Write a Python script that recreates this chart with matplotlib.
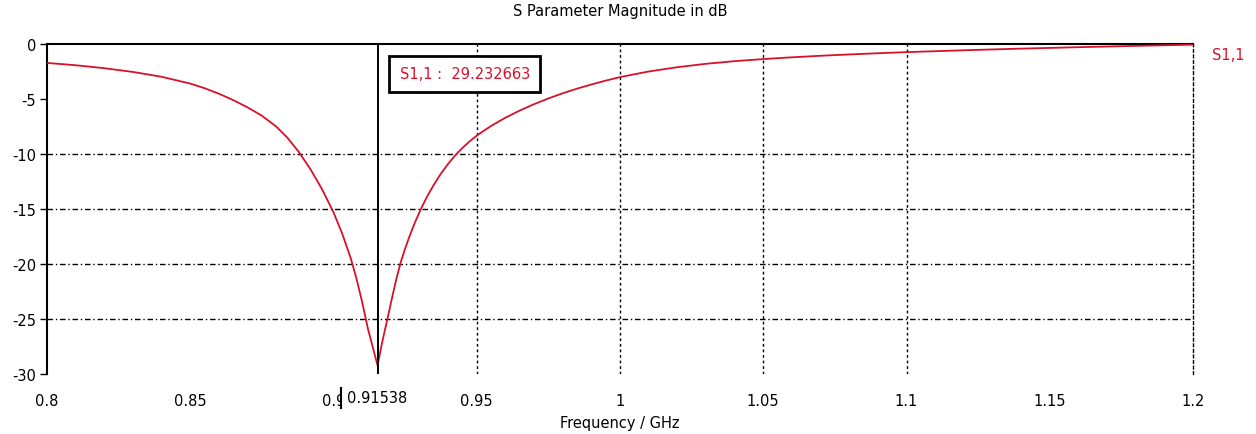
import matplotlib
matplotlib.use("Agg")
import matplotlib.pyplot as plt
from matplotlib.lines import Line2D

# ---- data ----
freq_ghz = [0.800, 0.810, 0.820, 0.830, 0.840, 0.850, 0.855, 0.860, 0.865, 0.870,
            0.875, 0.880, 0.884, 0.888, 0.892, 0.896, 0.900, 0.903, 0.906, 0.908,
            0.910, 0.912, 0.91538,
            0.9170, 0.9189, 0.9205, 0.9220, 0.9235, 0.9250, 0.9265, 0.9283, 0.9305,
            0.9325, 0.9350, 0.9375, 0.9400, 0.9425, 0.9450, 0.9475, 0.9503, 0.9550,
            0.9600, 0.9650, 0.9700, 0.9750, 0.9800, 0.9850, 0.9900, 0.9950, 1.000,
            1.010, 1.020, 1.030, 1.040, 1.050, 1.060, 1.070, 1.080, 1.090, 1.100,
            1.120, 1.140, 1.160, 1.180, 1.200]
s11_db = [-1.72, -1.93, -2.20, -2.54, -2.98, -3.60, -4.02, -4.52, -5.10, -5.76,
          -6.52, -7.50, -8.55, -9.85, -11.40, -13.20, -15.30, -17.21, -19.46, -21.30,
          -23.46, -25.86, -29.23,
          -27.10, -24.90, -23.00, -21.30, -19.80, -18.60, -17.50, -16.30, -15.00,
          -13.95, -12.80, -11.78, -10.90, -10.12, -9.45, -8.85, -8.27, -7.45,
          -6.70, -6.05, -5.47, -4.95, -4.48, -4.06, -3.68, -3.33, -3.01,
          -2.50, -2.11, -1.80, -1.56, -1.37, -1.21, -1.07, -0.95, -0.84, -0.74,
          -0.57, -0.42, -0.29, -0.17, -0.06]

x_ticks = [0.8, 0.85, 0.9, 0.95, 1.0, 1.05, 1.1, 1.15, 1.2]
x_tick_labels = ["0.8", "0.85", "0.9", "0.95", "1", "1.05", "1.1", "1.15", "1.2"]
y_ticks = [0, -5, -10, -15, -20, -25, -30]
y_tick_labels = ["0", "-5", "-10", "-15", "-20", "-25", "-30"]
h_grid = [-10, -15, -20, -25]
v_grid = [0.95, 1.0, 1.05, 1.1]

marker_f = 0.91538
marker_val = "29.232663"
series_name = "S1,1"
title = "S Parameter Magnitude in dB"
xlabel = "Frequency / GHz"

RED = "#d8102a"
FS = 10.5
plt.rcParams['font.family'] = ['DejaVu Sans']

fig = plt.figure(figsize=(12.56, 4.35), dpi=100)
ax = fig.add_axes([47/1256, 1-375/435, (1193-47)/1256, 330/435])

ax.plot(freq_ghz, s11_db, color=RED, lw=1.3, zorder=4)
ax.set_xlim(0.8, 1.2)
ax.set_ylim(-30, 0)

for g in h_grid:
    ax.axhline(g, color="black", lw=1.0, ls=(0, (4, 2, 1, 2)), zorder=1)
for g in v_grid:
    ax.axvline(g, color="black", lw=1.0, ls=(0, (2, 2)), zorder=1)

ax.spines["bottom"].set_visible(False)
ax.spines["right"].set_linestyle((0, (2, 2)))
ax.spines["right"].set_linewidth(1.0)
ax.spines["left"].set_linewidth(1.5)
ax.spines["top"].set_linewidth(1.5)

ax.set_xticks(x_ticks)
ax.set_xticklabels(x_tick_labels)
ax.set_yticks(y_ticks)
ax.set_yticklabels(y_tick_labels)
ax.tick_params(axis="x", length=0, pad=14, labelsize=FS)
ax.tick_params(axis="y", length=5, width=1, direction="out", pad=3, labelsize=FS)

ax.set_title(title, fontsize=FS, pad=21)
ax.set_xlabel(xlabel, fontsize=FS, labelpad=5)

# marker
ax.axvline(marker_f, color="black", lw=1.4, zorder=5)
ax.annotate(f"{series_name} :  {marker_val}", xy=(marker_f, 1), xycoords=("data", "axes fraction"),
            xytext=(15.8, -21.5), textcoords="offset points", color=RED, fontsize=FS,
            ha="left", va="center",
            bbox=dict(boxstyle="square,pad=0.7", fc="white", ec="black", lw=2.0), zorder=6)

mlab = ax.annotate(f"{marker_f}", xy=(marker_f, 0), xycoords=("data", "axes fraction"),
                   xytext=(0, -17), textcoords="offset points", ha="center", va="center",
                   fontsize=FS, color="black",
                   bbox=dict(boxstyle="square,pad=0.45", fc="white", ec="none"), zorder=6)

# series label at right
ax.annotate(series_name, xy=(1.2, s11_db[-1]), xycoords="data", xytext=(14, -7),
            textcoords="offset points", color=RED, fontsize=FS, ha="left", va="center",
            annotation_clip=False)

fig.canvas.draw()
bb = mlab.get_bbox_patch().get_window_extent()
fig.add_artist(Line2D([bb.x0 / fig.bbox.width] * 2,
                      [(bb.y0 + 4) / fig.bbox.height, (bb.y1 - 4) / fig.bbox.height],
                      color="black", lw=1.5))

fig.savefig("out.png", dpi=100, facecolor="white")
